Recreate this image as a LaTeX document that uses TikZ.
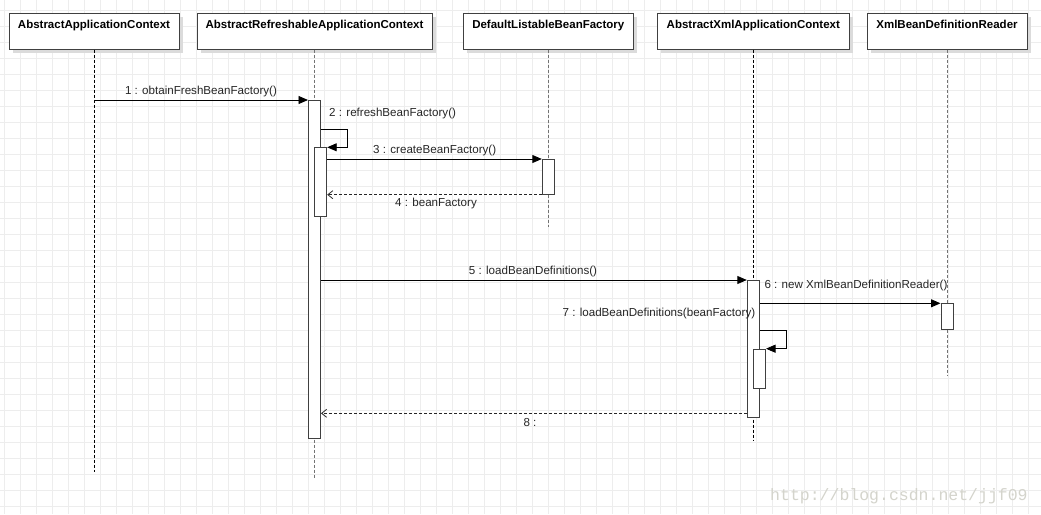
\documentclass[tikz,border=0pt]{standalone}
\usepackage{fontspec}
\setmainfont{Liberation Sans}
\newfontfamily\wmfont{Liberation Mono}
\usetikzlibrary{arrows.meta,shadows}
\definecolor{gridc}{HTML}{EDEDED}
\definecolor{boxc}{HTML}{404040}
\definecolor{wmc}{HTML}{D4D4CC}
\tikzset{
 hdr/.style={draw=boxc, line width=1pt, fill=white, minimum height=36pt, inner xsep=0pt, inner ysep=6pt, text height=9.7pt, text depth=14.3pt, font=\fontsize{11.5}{13}\selectfont\bfseries, drop shadow={shadow xshift=4pt, shadow yshift=-4pt, fill=black!14, opacity=1}},
 lifeA/.style={draw=black, line width=0.8pt, dash pattern=on 3pt off 2pt},
 lifeB/.style={draw=black!55, line width=0.8pt, dash pattern=on 3pt off 2pt},
 act/.style={draw=boxc, line width=1pt, fill=white, minimum width=12pt, inner sep=0pt, anchor=north},
 call/.style={draw=black, line width=0.9pt, -{Triangle[length=9.5pt,width=8pt]}},
 ret/.style={draw=black!85, line width=0.8pt, dash pattern=on 3pt off 2pt, -{Straight Barb[length=5pt,width=8pt]}},
 lbl/.style={font=\fontsize{11.6}{13}\selectfont, inner sep=0pt, text=black!85},
 wm/.style={font=\wmfont\fontsize{16.5}{18}\selectfont, text=wmc, inner sep=0pt, anchor=base west},
}
\begin{document}
\begin{tikzpicture}[x=1pt,y=-1pt]
\useasboundingbox[fill=white] (0,0) rectangle (1041,514);
% grid
\foreach \k in {0,...,64} \draw[gridc, line width=0.7pt] ({4.7+16*\k},0) -- ({4.7+16*\k},514);
\foreach \k in {0,...,31} \draw[gridc, line width=0.7pt] (0,{10.7+16*\k}) -- (1041,{10.7+16*\k});
% watermark
\node[wm] (wmark) at (770,500) {http://blog.csdn.net/jjf09};
% headers
\node[hdr, minimum width=170pt] (h1) at (94,31) {AbstractApplicationContext};
\node[hdr, minimum width=235pt] (h2) at (314.5,31) {AbstractRefreshableApplicationContext};
\node[hdr, minimum width=170pt] (h3) at (548.3,31) {DefaultListableBeanFactory};
\node[hdr, minimum width=192pt] (h4) at (753.3,31) {AbstractXmlApplicationContext};
\node[hdr, minimum width=160pt] (h5) at (947,31) {XmlBeanDefinitionReader};
% lifelines
\coordinate (e1) at (h1.south |- 0,472);
\coordinate (e2) at (h2.south |- 0,479);
\coordinate (e3) at (h3.south |- 0,227);
\coordinate (e4) at (h4.south |- 0,441);
\coordinate (e5) at (h5.south |- 0,375);
\draw[lifeA] (h1.south) -- (e1);
\draw[lifeB] (h2.south) -- (e2);
\draw[lifeB] (h3.south) -- (e3);
\draw[lifeA] (h4.south) -- (e4);
\draw[lifeB] (h5.south) -- (e5);
% activations
\node[act, minimum height=338pt] (a1) at (h2.south |- 0,100) {};
\node[act, minimum height=68.4pt] (a2) at (320.7,147.3) {};
\node[act, minimum height=34.7pt] (a3) at (h3.south |- 0,159) {};
\node[act, minimum height=136.7pt] (a4) at (h4.south |- 0,280) {};
\node[act, minimum height=25.7pt] (a5) at (h5.south |- 0,303.3) {};
\node[act, minimum height=39.3pt] (a6) at (759.5,348.7) {};
% messages
\draw[call] (h1.south |- a1.north) -- (a1.north west);
\draw[call] (a1.east |- 0,129.3) -- (347.7,129.3) -- (347.7,147.3) -- (a2.north east);
\draw[call] (a2.east |- a3.north) -- (a3.north west);
\draw[ret] (a3.south west) -- (a2.east |- a3.south);
\draw[call] (a1.east |- a4.north) -- (a4.north west);
\draw[call] (a4.east |- a5.north) -- (a5.north west);
\draw[call] (a4.east |- 0,330.7) -- (786.7,330.7) -- (786.7,348.7) -- (a6.north east);
\draw[ret] (a4.west |- 0,413.3) -- (a1.east |- 0,413.3);
% labels
\node[lbl] (l1) at (201,91) {1 : obtainFreshBeanFactory()};
\node[lbl, anchor=west] (l2) at (329,113) {2 : refreshBeanFactory()};
\node[lbl] (l3) at (434.7,150) {3 : createBeanFactory()};
\node[lbl] (l4) at (436,203) {4 : beanFactory};
\node[lbl] (l5) at (533,271) {5 : loadBeanDefinitions()};
\node[lbl, anchor=west] (l6) at (764.3,285) {6 : new XmlBeanDefinitionReader()};
\node[lbl] (l7) at (658.9,313.3) {7 : loadBeanDefinitions(beanFactory)};
\node[lbl] (l8) at (530,422.3) {8 :};
\end{tikzpicture}
\end{document}
